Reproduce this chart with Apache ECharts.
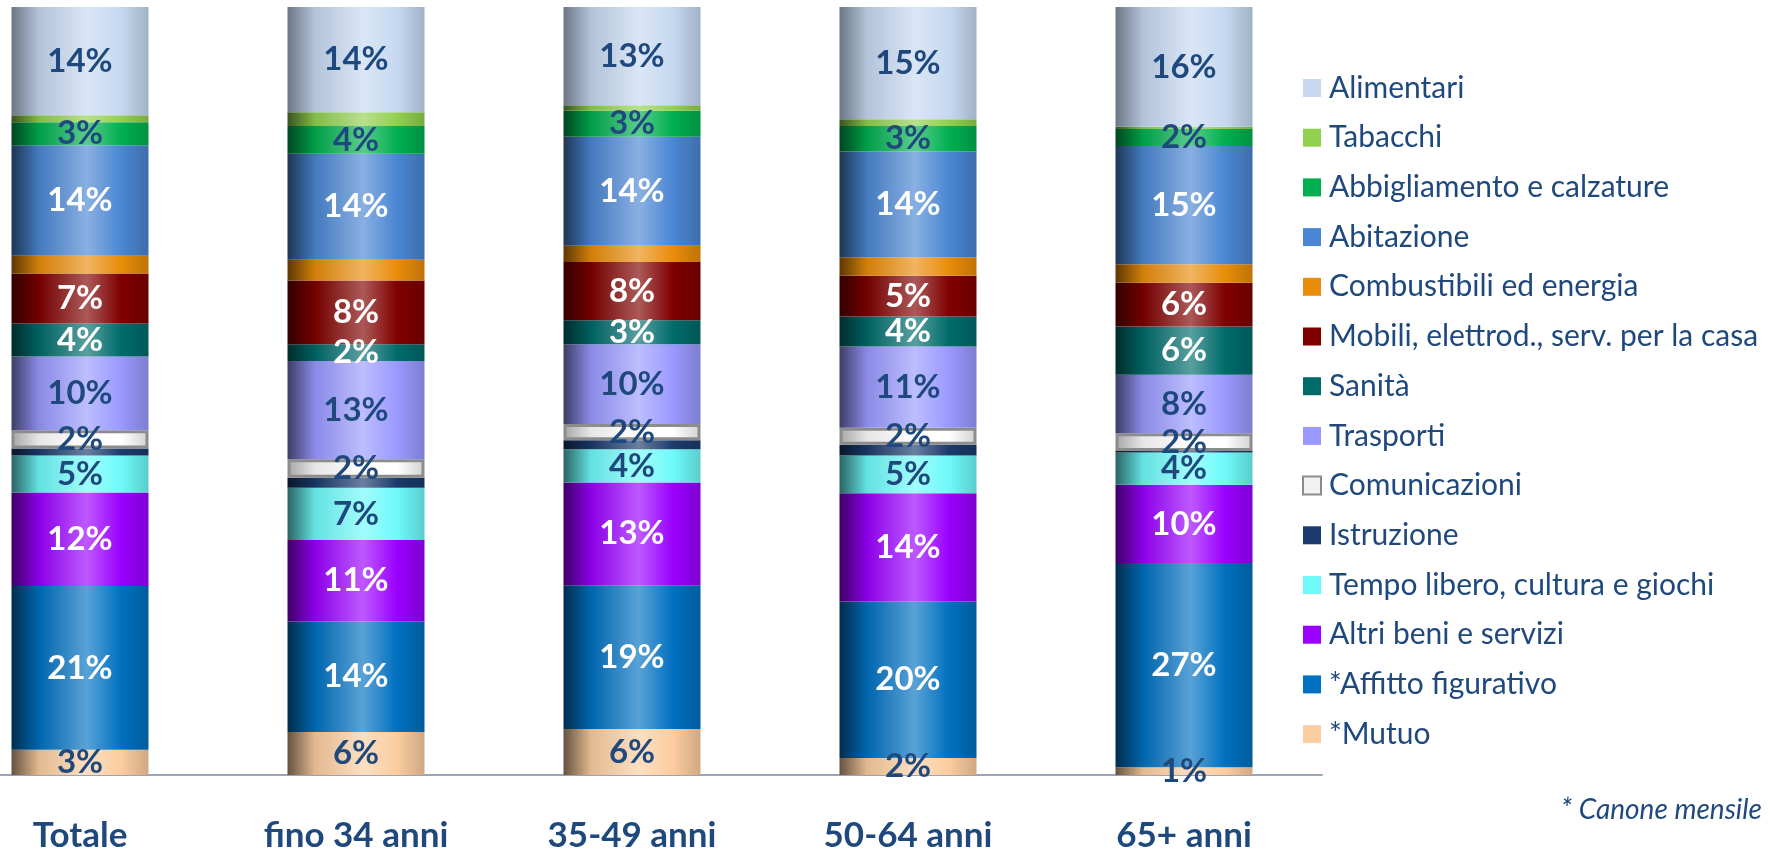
<!DOCTYPE html>
<html><head><meta charset="utf-8">
<script src="https://cdn.jsdelivr.net/npm/echarts@6/dist/echarts.min.js"></script>
<style>html,body{margin:0;padding:0;background:#fff}#c{width:1773px;height:853px}</style>
</head><body><div id="c"></div>
<script>
const categories = ['Totale', 'fino 34 anni', '35-49 anni', '50-64 anni', '65+ anni'];
const seriesNames = ['Alimentari', 'Tabacchi', 'Abbigliamento e calzature', 'Abitazione', 'Combustibili ed energia',
  'Mobili, elettrod., serv. per la casa', 'Sanità', 'Trasporti', 'Comunicazioni', 'Istruzione',
  'Tempo libero, cultura e giochi', 'Altri beni e servizi', '*Affitto figurativo', '*Mutuo'];
const alimentari    = [14.1, 13.7, 12.8, 14.6, 15.6];
const tabacchi      = [0.9, 1.8, 0.7, 0.9, 0.3];
const abbigliamento = [3.0, 3.6, 3.4, 3.3, 2.2];
const abitazione    = [14.4, 13.8, 14.2, 13.8, 15.4];
const combustibili  = [2.3, 2.7, 2.1, 2.4, 2.4];
const mobili        = [6.5, 8.3, 7.6, 5.3, 5.7];
const sanita        = [4.3, 2.2, 3.1, 3.9, 6.3];
const trasporti     = [9.6, 12.8, 10.4, 10.6, 7.6];
const comunicazioni = [2.4, 2.4, 2.1, 2.2, 2.3];
const istruzione    = [0.9, 1.3, 1.2, 1.4, 0.2];
const tempoLibero   = [4.8, 6.8, 4.3, 4.9, 4.2];
const altri         = [12.2, 10.6, 13.4, 14.1, 10.2];
const affitto       = [21.3, 14.4, 18.7, 20.4, 26.6];
const mutuo         = [3.3, 5.6, 6.0, 2.2, 1.0];

const values = [alimentari, tabacchi, abbigliamento, abitazione, combustibili, mobili, sanita,
  trasporti, comunicazioni, istruzione, tempoLibero, altri, affitto, mutuo];
const colors = ['#C6D9F1', '#92D050', '#00B050', '#4A86D3', '#E98C0A', '#800000', '#006B6B',
  '#9999FF', '#F2F2F2', '#1B3A6B', '#6EFAFA', '#9A00FF', '#0070C0', '#FBCDA0'];
const showLabel = [true, false, true, true, false, true, true, true, true, false, true, true, true, true];
const labelColors = ['#1F497D', '#1F497D', '#1F497D', '#ffffff', '#ffffff', '#ffffff', '#ffffff',
  '#1F497D', '#1F497D', '#ffffff', '#1F497D', '#ffffff', '#ffffff', '#1F497D'];

function mix(hex, f) {
  const n = parseInt(hex.slice(1), 16);
  let r = (n >> 16) & 255, g = (n >> 8) & 255, b = n & 255;
  const t = f < 0 ? 0 : 255, a = Math.abs(f);
  r = Math.round(r + (t - r) * a); g = Math.round(g + (t - g) * a); b = Math.round(b + (t - b) * a);
  return 'rgb(' + r + ',' + g + ',' + b + ')';
}
function cyl(hex, dark) {
  return { type: 'linear', x: 0, y: 0, x2: 1, y2: 0, colorStops: [
    { offset: 0, color: mix(hex, -dark) },
    { offset: 0.2, color: mix(hex, -0.1) },
    { offset: 0.55, color: mix(hex, 0.35) },
    { offset: 0.8, color: hex },
    { offset: 1, color: mix(hex, -0.18) }
  ] };
}

const series = [];
for (let i = seriesNames.length - 1; i >= 0; i--) {
  const isCom = seriesNames[i] === 'Comunicazioni';
  series.push({
    name: seriesNames[i], type: 'bar', stack: 'tot', barWidth: 137,
    data: values[i],
    itemStyle: isCom ? { color: cyl('#FFFFFF', 0.35), borderColor: '#8C8C8C', borderWidth: 3 }
                     : { color: cyl(colors[i], i === 0 ? 0.45 : 0.6) },
    label: {
      show: showLabel[i], position: 'inside', color: labelColors[i],
      fontFamily: 'Lato', fontWeight: 'bold', fontSize: 33,
      formatter: p => Math.round(p.value) + '%'
    },
    emphasis: { disabled: true }
  });
}

const chart = echarts.init(document.getElementById('c'), null, { renderer: 'canvas' });
chart.setOption({
  animation: false,
  backgroundColor: '#ffffff',
  grid: { left: -58, width: 1380, top: 7, bottom: 78, containLabel: false, outerBoundsMode: 'none' },
  xAxis: {
    type: 'category', data: categories,
    axisLine: { lineStyle: { color: '#9CA3B5', width: 2 } },
    axisTick: { show: false },
    axisLabel: { color: '#1F497D', fontFamily: 'Lato', fontWeight: 'bold', fontSize: 35, margin: 43 }
  },
  yAxis: { type: 'value', min: 0, max: 100, show: false, splitLine: { show: false } },
  legend: {
    orient: 'vertical', left: 1302, top: 73, padding: 0, itemWidth: 18, itemHeight: 18, itemGap: 19.7,
    icon: 'rect',
    textStyle: { color: '#1F497D', fontFamily: 'Lato', fontSize: 30, lineHeight: 30, padding: [0, 0, 0, 3] },
    data: seriesNames.map((n, i) => n === 'Comunicazioni'
      ? { name: n, itemStyle: { color: '#F2F2F2', borderColor: '#8C8C8C', borderWidth: 2 } }
      : { name: n, itemStyle: { color: colors[i], borderWidth: 0 } })
  },
  graphic: [{
    type: 'text', right: 11, top: 796,
    style: { text: '* Canone mensile', fill: '#1F497D', font: 'italic 28px Lato' }
  }],
  series: series
});
</script></body></html>
